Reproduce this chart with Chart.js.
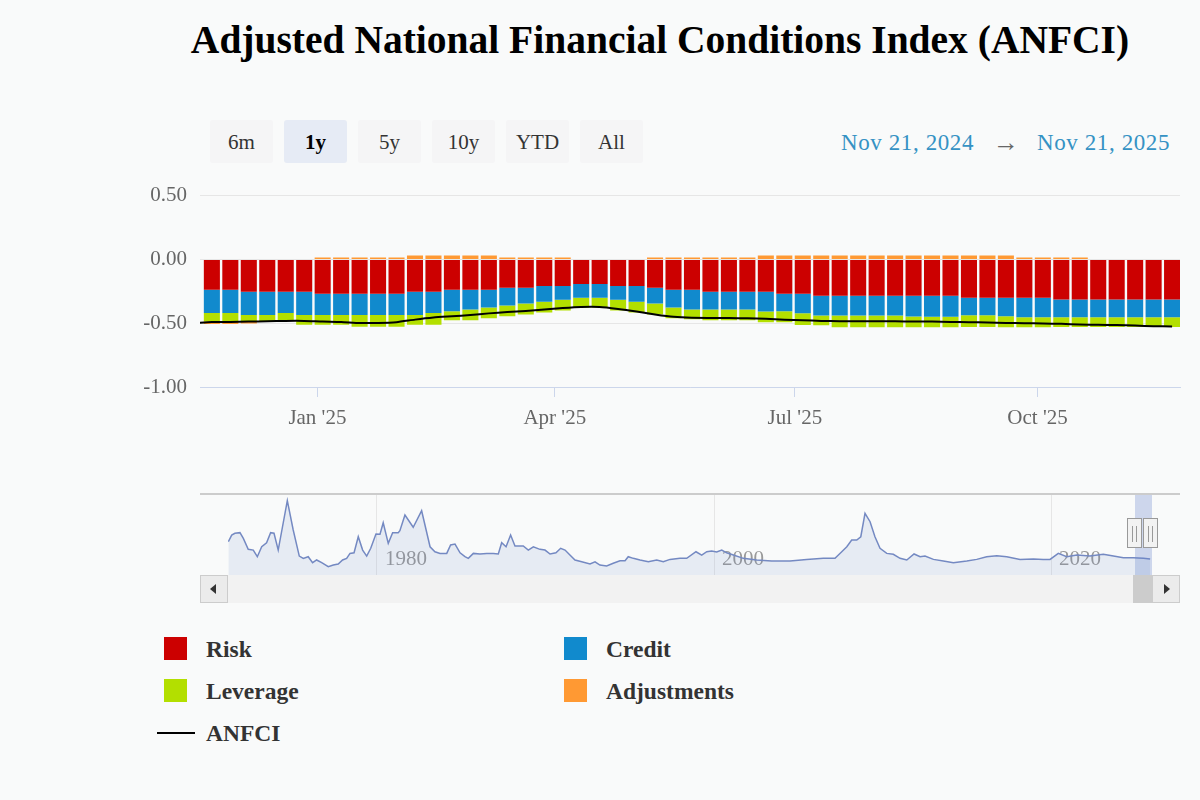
<!doctype html>
<html>
	<head>
		<title>Adjusted National Financial Conditions Index (ANFCI)</title>
		<script src="https://cdn.jsdelivr.net/npm/chart.js@4/dist/chart.umd.min.js"></script>
		<style>
			body {
				margin: 0;
				background: #f9fafa;
				font-family: "Liberation Serif", serif;
			}
			#page {
				position: relative;
				width: 1200px;
				height: 800px;
				overflow: hidden;
			}
			#title {
				position: absolute;
				left: 0;
				top: 20px;
				width: 1320px;
				margin: 0;
				text-align: center;
				font-size: 39.5px;
				line-height: 40px;
				font-weight: bold;
				color: #000;
			}
			.btn {
				position: absolute;
				top: 120px;
				width: 63px;
				height: 43px;
				line-height: 45px;
				text-align: center;
				font-size: 21px;
				color: #333;
				background: #f5f5f6;
				border-radius: 3px;
			}
			.btn.on {
				background: #e6ebf5;
				color: #000;
				font-weight: bold;
			}
			.rng {
				position: absolute;
				top: 127px;
				height: 32px;
				line-height: 32px;
				font-size: 23px;
				color: #3592c4;
				white-space: nowrap;
				letter-spacing: 0.6px;
			}
			#rangeArrow { color: #666; font-size: 26px; }
			#mainWrap { position: absolute; left: 0; top: 170px; width: 1200px; height: 270px; }
			#navWrap { position: absolute; left: 228px; top: 495px; width: 924px; height: 80px; }
			.abs { position: absolute; }
			.handle {
				position: absolute;
				top: 518px;
				width: 15px;
				height: 30px;
				background: #f2f2f2;
				border: 1px solid #999;
				box-sizing: border-box;
			}
			.handle i {
				position: absolute;
				top: 7px;
				width: 1px;
				height: 16px;
				background: #999;
			}
			.sbtn {
				position: absolute;
				top: 575px;
				width: 28px;
				height: 28px;
				background: #ebebeb;
				border: 1px solid #cccccc;
				box-sizing: border-box;
			}
			.tri {
				position: absolute;
				top: 8px;
				width: 0;
				height: 0;
				border-top: 5px solid transparent;
				border-bottom: 5px solid transparent;
			}
			.leg {
				position: absolute;
				font-size: 23.5px;
				font-weight: bold;
				color: #333;
				line-height: 24px;
				white-space: nowrap;
			}
			.leg .box {
				position: absolute;
				left: -42px;
				top: 0;
				width: 23px;
				height: 23px;
			}
			.leg .ln {
				position: absolute;
				left: -49px;
				top: 11px;
				width: 38px;
				height: 2px;
			}
		</style>
	</head>
	<body>
		<div id="page">
			<div id="title">Adjusted National Financial Conditions Index (ANFCI)</div>
			<div id="buttons"></div>
			<div class="rng" id="rangeFrom" style="left:841px"></div>
			<div class="rng" id="rangeArrow" style="left:993px">&rarr;</div>
			<div class="rng" id="rangeTo" style="left:1037px"></div>

			<div id="mainWrap"><canvas id="main"></canvas></div>

			<div class="abs" style="left:200px;top:493px;width:980px;height:2px;background:#cccccc"></div>
			<div id="navWrap"><canvas id="nav"></canvas></div>
			<div class="abs" style="left:1135px;top:495px;width:17px;height:80px;background:rgba(102,133,204,0.3)"></div>

			<div class="abs" style="left:200px;top:575px;width:980px;height:28px;background:#f2f2f2"></div>
			<div class="abs" style="left:1133px;top:575px;width:19px;height:28px;background:#cccccc"></div>
			<div class="sbtn" style="left:200px"><div class="tri" style="left:9px;border-right:6px solid #333"></div></div>
			<div class="sbtn" style="left:1152px"><div class="tri" style="left:11px;border-left:6px solid #333"></div></div>
			<div class="handle" style="left:1127px"><i style="left:4px"></i><i style="left:8px"></i></div>
			<div class="handle" style="left:1143px"><i style="left:4px"></i><i style="left:8px"></i></div>

			<div id="legend"></div>
		</div>

		<script>
			// weekly observations (week ending Friday)
			var weeks = [
				'2024-11-22', '2024-11-29', '2024-12-06', '2024-12-13', '2024-12-20', '2024-12-27',
				'2025-01-03', '2025-01-10', '2025-01-17', '2025-01-24', '2025-01-31',
				'2025-02-07', '2025-02-14', '2025-02-21', '2025-02-28',
				'2025-03-07', '2025-03-14', '2025-03-21', '2025-03-28',
				'2025-04-04', '2025-04-11', '2025-04-18', '2025-04-25',
				'2025-05-02', '2025-05-09', '2025-05-16', '2025-05-23', '2025-05-30',
				'2025-06-06', '2025-06-13', '2025-06-20', '2025-06-27',
				'2025-07-04', '2025-07-11', '2025-07-18', '2025-07-25',
				'2025-08-01', '2025-08-08', '2025-08-15', '2025-08-22', '2025-08-29',
				'2025-09-05', '2025-09-12', '2025-09-19', '2025-09-26',
				'2025-10-03', '2025-10-10', '2025-10-17', '2025-10-24', '2025-10-31',
				'2025-11-07', '2025-11-14', '2025-11-21'
			];

			var risk = [
				-0.238, -0.238, -0.254, -0.254, -0.254, -0.254, -0.269, -0.269, -0.269, -0.269,
				-0.269, -0.254, -0.254, -0.238, -0.238, -0.238, -0.223, -0.223, -0.208, -0.208,
				-0.192, -0.192, -0.208, -0.208, -0.223, -0.238, -0.238, -0.254, -0.254, -0.254,
				-0.254, -0.269, -0.269, -0.285, -0.285, -0.285, -0.285, -0.285, -0.285, -0.285,
				-0.285, -0.300, -0.300, -0.300, -0.300, -0.300, -0.315, -0.315, -0.315, -0.315,
				-0.315, -0.315, -0.315
			];
			var credit = [
				-0.182, -0.182, -0.182, -0.182, -0.167, -0.182, -0.167, -0.167, -0.167, -0.167,
				-0.167, -0.182, -0.167, -0.169, -0.154, -0.138, -0.138, -0.123, -0.123, -0.108,
				-0.108, -0.108, -0.108, -0.123, -0.123, -0.138, -0.154, -0.138, -0.138, -0.138,
				-0.154, -0.138, -0.154, -0.154, -0.154, -0.154, -0.154, -0.154, -0.162, -0.165,
				-0.165, -0.138, -0.138, -0.146, -0.154, -0.154, -0.138, -0.138, -0.138, -0.138,
				-0.138, -0.138, -0.138
			];
			var leverage = [
				-0.066, -0.066, -0.046, -0.046, -0.056, -0.077, -0.077, -0.077, -0.092, -0.092,
				-0.092, -0.077, -0.092, -0.069, -0.085, -0.085, -0.085, -0.085, -0.085, -0.085,
				-0.077, -0.077, -0.085, -0.085, -0.085, -0.085, -0.077, -0.085, -0.085, -0.085,
				-0.085, -0.085, -0.092, -0.077, -0.092, -0.092, -0.092, -0.092, -0.085, -0.081,
				-0.081, -0.092, -0.092, -0.085, -0.077, -0.077, -0.077, -0.077, -0.077, -0.077,
				-0.077, -0.077, -0.077
			];
			var adjustments = [
				-0.020, -0.020, -0.020, 0, 0, 0, 0.015, 0.015, 0.015, 0.015,
				0.015, 0.030, 0.030, 0.030, 0.030, 0.030, 0.015, 0.015, 0.015, 0.015,
				0, 0, 0, 0, 0.015, 0.015, 0.015, 0.015, 0.015, 0.015,
				0.030, 0.030, 0.030, 0.030, 0.030, 0.030, 0.030, 0.030, 0.030, 0.030,
				0.030, 0.030, 0.030, 0.030, 0.015, 0.015, 0.015, 0.015, 0, 0,
				0, 0, 0
			];
			var anfci = [
				-0.490, -0.490, -0.487, -0.485, -0.482, -0.482, -0.487, -0.490, -0.498, -0.498,
				-0.492, -0.472, -0.456, -0.446, -0.436, -0.423, -0.413, -0.404, -0.392, -0.381,
				-0.373, -0.373, -0.388, -0.408, -0.431, -0.450, -0.458, -0.459, -0.459, -0.462,
				-0.465, -0.472, -0.477, -0.482, -0.485, -0.485, -0.485, -0.485, -0.487, -0.487,
				-0.490, -0.492, -0.495, -0.498, -0.500, -0.502, -0.505, -0.510, -0.513, -0.515,
				-0.519, -0.523, -0.525
			];
			// week before the window, so the line runs in from the left edge
			var anfciPrevWeek = '2024-11-15';
			var anfciPrevValue = -0.500;

			var xTickDates = ['2025-01-01', '2025-04-01', '2025-07-01', '2025-10-01'];
			var xTickLabels = ["Jan '25", "Apr '25", "Jul '25", "Oct '25"];
			var yTicks = [0.5, 0, -0.5, -1];

			var seriesNames = ['Risk', 'Credit', 'Leverage', 'Adjustments', 'ANFCI'];
			var seriesColors = ['#cc0000', '#118acd', '#b3df00', '#ff9933', '#000000'];

			var rangeButtons = ['6m', '1y', '5y', '10y', 'YTD', 'All'];
			var rangeFrom = 'Nov 21, 2024';
			var rangeTo = 'Nov 21, 2025';

			// full history for the navigator
			var navYears = [
				1971.18, 1971.38, 1971.57, 1971.87, 1972.07, 1972.36, 1972.66, 1972.90, 1973.16, 1973.45,
				1973.69, 1973.89, 1974.14, 1974.68, 1975.03, 1975.39, 1975.63, 1975.92, 1976.18, 1976.42,
				1976.72, 1977.11, 1977.41, 1977.70, 1977.96, 1978.20, 1978.40, 1978.64, 1978.89, 1979.15,
				1979.39, 1979.63, 1979.94, 1980.18, 1980.37, 1980.67, 1980.93, 1981.26, 1981.36, 1981.66,
				1982.15, 1982.65, 1983.15, 1983.44, 1983.74, 1984.14, 1984.37, 1984.63, 1984.93, 1985.22,
				1985.42, 1985.72, 1986.11, 1986.51, 1986.90, 1987.20, 1987.40, 1987.66, 1987.93, 1988.19,
				1988.68, 1988.98, 1989.28, 1989.67, 1989.97, 1990.27, 1990.62, 1990.90, 1991.16, 1991.45,
				1991.75, 1992.15, 1992.64, 1992.94, 1993.23, 1993.63, 1994.02, 1994.42, 1994.72, 1994.91,
				1995.21, 1995.61, 1996.10, 1996.60, 1996.99, 1997.39, 1997.98, 1998.38, 1998.93, 1999.27,
				1999.57, 1999.86, 2000.16, 2000.46, 2000.75, 2001.15, 2001.74, 2002.53, 2003.42, 2004.51,
				2005.50, 2006.49, 2007.18, 2007.58, 2007.88, 2008.17, 2008.47, 2008.71, 2008.96, 2009.26,
				2009.55, 2009.85, 2010.25, 2010.64, 2011.04, 2011.44, 2011.87, 2012.23, 2012.52, 2013.02,
				2013.61, 2014.20, 2015.00, 2015.59, 2016.18, 2016.78, 2017.37, 2018.16, 2018.95, 2019.54,
				2019.94, 2020.43, 2020.93, 2021.53, 2022.31, 2023.10, 2023.70, 2024.29, 2024.88, 2025.48,
				2025.88
			];
			var navValues = [
				0.57, 1.01, 1.13, 1.17, 0.79, 0.06, 0.01, -0.43, 0.23, 0.50,
				1.17, 1.13, 0.01, 3.30, 1.35, -0.39, -0.54, -0.43, -0.83, -0.65,
				-0.83, -1.10, -0.99, -0.92, -0.65, -0.54, -0.21, -0.17, 0.90, 0.01,
				-0.39, 0.13, 1.08, 1.06, 1.83, 0.46, 1.17, 1.17, 1.30, 2.35,
				1.53, 2.63, 0.23, -0.10, -0.21, -0.21, 0.35, 0.41, -0.17, -0.43,
				-0.54, -0.21, -0.25, -0.21, -0.21, -0.25, 0.50, 0.23, 1.01, 0.28,
				0.28, 0.01, 0.23, 0.06, 0.01, -0.25, -0.17, 0.13, 0.01, -0.32,
				-0.65, -0.77, -0.92, -0.77, -0.99, -1.05, -0.87, -0.70, -0.70, -0.43,
				-0.54, -0.65, -0.77, -0.65, -0.77, -0.61, -0.54, -0.54, -0.10, -0.32,
				-0.10, -0.05, -0.12, 0.01, -0.17, -0.32, -0.54, -0.65, -0.72, -0.72,
				-0.61, -0.54, -0.54, -0.10, 0.23, 0.68, 0.68, 0.90, 2.46, 1.90,
				0.90, 0.13, -0.21, -0.27, -0.54, -0.65, -0.25, -0.43, -0.39, -0.61,
				-0.72, -0.83, -0.72, -0.61, -0.43, -0.37, -0.43, -0.61, -0.59, -0.61,
				-0.61, -0.21, -0.43, -0.32, -0.39, -0.27, -0.39, -0.50, -0.50, -0.54,
				-0.59
			];
			var navLabelYears = [1980, 2000, 2020];

			var FONT = 'Liberation Serif';

			function dayOf(s) {
				return (Date.parse(s) - Date.parse('2025-01-01')) / 864e5;
			}

			// --- header bits
			var btnBox = document.getElementById('buttons');
			rangeButtons.forEach(function(t, i) {
				var b = document.createElement('div');
				b.className = 'btn' + (t === '1y' ? ' on' : '');
				b.style.left = (210 + i * 74) + 'px';
				b.textContent = t;
				btnBox.appendChild(b);
			});
			document.getElementById('rangeFrom').textContent = rangeFrom;
			document.getElementById('rangeTo').textContent = rangeTo;

			// --- legend
			var legend = document.getElementById('legend');
			var legPos = [[206, 637], [606, 637], [206, 679], [606, 679], [206, 721]];
			seriesNames.forEach(function(name, i) {
				var d = document.createElement('div');
				d.className = 'leg';
				d.style.left = legPos[i][0] + 'px';
				d.style.top = legPos[i][1] + 'px';
				var mark = document.createElement('span');
				mark.className = i === 4 ? 'ln' : 'box';
				mark.style.background = seriesColors[i];
				d.appendChild(mark);
				d.appendChild(document.createTextNode(name));
				legend.appendChild(d);
			});

			// --- main chart
			var xs = weeks.map(dayOf);
			var xTickDays = xTickDates.map(dayOf);

			function barSet(i, vals) {
				return {
					type: 'bar',
					label: seriesNames[i],
					data: vals.map(function(v, k) { return { x: xs[k], y: v }; }),
					backgroundColor: seriesColors[i],
					borderWidth: 0,
					stack: 'anfci',
					barPercentage: 0.87,
					categoryPercentage: 1,
					order: 1
				};
			}

			var lineData = [{ x: dayOf(anfciPrevWeek), y: anfciPrevValue }].concat(
				anfci.map(function(v, k) { return { x: xs[k], y: v }; })
			);

			new Chart(document.getElementById('main'), {
				type: 'bar',
				data: {
					datasets: [
						barSet(0, risk),
						barSet(1, credit),
						barSet(2, leverage),
						barSet(3, adjustments),
						{
							type: 'line',
							label: seriesNames[4],
							data: lineData,
							borderColor: seriesColors[4],
							borderWidth: 2,
							pointRadius: 0,
							tension: 0.2,
							stack: 'line',
							order: 0
						}
					]
				},
				options: {
					responsive: true,
					maintainAspectRatio: false,
					animation: false,
					events: [],
					layout: { padding: { top: 22, right: 20, bottom: 0, left: 0 } },
					plugins: { legend: { display: false }, tooltip: { enabled: false } },
					scales: {
						x: {
							type: 'linear',
							min: -44.5,
							max: 327,
							offset: false,
							grid: { offset: false, drawOnChartArea: false, color: '#ccd6eb', tickLength: 10 },
							border: { color: '#ccd6eb' },
							ticks: {
								padding: 9,
								color: '#666666',
								font: { family: FONT, size: 21 },
								maxRotation: 0,
								callback: function(v) { return xTickLabels[xTickDays.indexOf(v)]; }
							},
							afterBuildTicks: function(s) {
								s.ticks = xTickDays.map(function(v) { return { value: v }; });
							},
							afterFit: function(s) { s.height = 53; }
						},
						y: {
							stacked: true,
							min: -1,
							max: 0.5,
							grid: { color: '#e6e6e6', drawTicks: false },
							border: { display: false },
							ticks: {
								padding: 13,
								color: '#666666',
								font: { family: FONT, size: 21 },
								callback: function(v) { return v.toFixed(2); }
							},
							afterBuildTicks: function(s) {
								s.ticks = yTicks.map(function(v) { return { value: v }; });
							},
							afterFit: function(s) { s.width = 200; }
						}
					}
				}
			});

			// --- navigator
			var navLabels = {
				id: 'navLabels',
				beforeDatasetsDraw: function(chart) {
					var ctx = chart.ctx;
					var xScale = chart.scales.x;
					ctx.save();
					ctx.font = '21px "' + FONT + '"';
					ctx.fillStyle = '#999999';
					ctx.textBaseline = 'middle';
					navLabelYears.forEach(function(y) {
						ctx.fillText(String(y), xScale.getPixelForValue(y) + 8, 64);
					});
					ctx.restore();
				}
			};

			new Chart(document.getElementById('nav'), {
				type: 'line',
				data: {
					datasets: [{
						data: navYears.map(function(y, k) { return { x: y, y: navValues[k] }; }),
						borderColor: '#7489c2',
						borderWidth: 1.5,
						backgroundColor: 'rgba(102,133,194,0.12)',
						fill: 'start',
						pointRadius: 0,
						tension: 0
					}]
				},
				options: {
					responsive: true,
					maintainAspectRatio: false,
					animation: false,
					events: [],
					layout: { padding: 0 },
					plugins: { legend: { display: false }, tooltip: { enabled: false } },
					scales: {
						x: {
							type: 'linear',
							min: 1971.16,
							max: 2025.99,
							grid: { color: '#e6e6e6', drawTicks: false },
							border: { display: false },
							ticks: { display: false },
							afterBuildTicks: function(s) {
								s.ticks = navLabelYears.map(function(v) { return { value: v }; });
							},
							afterFit: function(s) { s.height = 0; }
						},
						y: {
							display: false,
							min: -1.65,
							max: 3.68
						}
					}
				},
				plugins: [navLabels]
			});
		</script>
	</body>
</html>
